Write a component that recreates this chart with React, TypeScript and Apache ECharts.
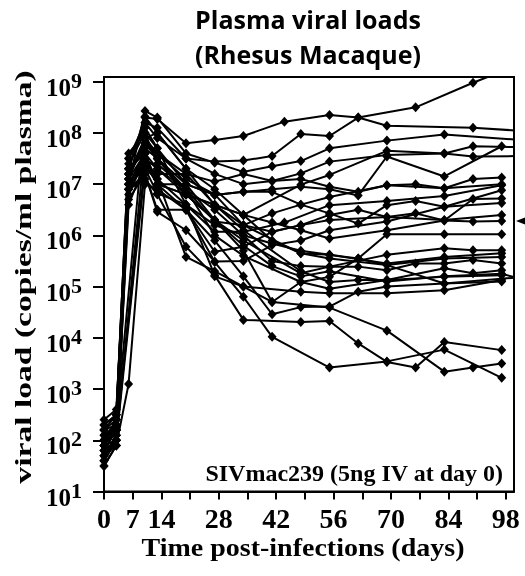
import React, { useEffect, useRef } from "react";
import * as echarts from "echarts";

// sampling days (post-infection); day 104 lies past the axis end and is clipped
const days = [0, 3, 6, 10, 13, 20, 27, 34, 41, 44, 48, 55, 62, 69, 76, 83, 90, 97, 104];
const n = null;
// log10 plasma viral load (copies/ml) per animal, aligned with `days`
const animals: (number | null)[][] = [
  [1.9, 2.2, 7.3, 8.2, 7.9, 7.5, 7.44, 7.46, 7.55, n, 7.98, 7.94, 8.3, n, 8.5, n, 8.98, 9.2, n],
  [2.0, 2.3, n, 8.3, 8.27, 7.8, 7.86, 7.94, n, 8.22, n, 8.35, 8.3, 8.14, n, n, 8.1, n, 8.03],
  [1.7, 2.1, 7.0, 8.43, 8.3, 7.6, 7.42, 7.24, 7.35, n, 7.45, 7.7, n, 7.85, n, 7.97, n, n, 7.85],
  [2.2, 2.4, 7.4, 8.0, 7.7, 7.0, 6.79, 6.85, 6.9, n, 6.95, 6.9, 6.78, 7.54, n, 7.15, n, 7.74, n],
  [1.8, 2.0, n, 7.8, 7.6, 7.2, 7.05, 7.2, 7.06, n, 7.21, 7.44, n, 7.57, n, 7.6, 7.74, n, 7.72],
  [2.1, 2.2, 7.1, 7.9, 8.0, 7.3, 6.59, 6.4, n, n, 6.99, 7.18, n, 7.65, n, 7.6, 7.54, n, 7.55],
  [1.6, 2.0, 6.8, 7.5, 7.3, 6.9, 6.27, 6.2, 6.43, n, 6.6, 6.75, n, 6.98, n, 6.92, 7.1, 7.13, n],
  [2.3, 2.5, 7.5, 8.1, 7.7, 6.6, 6.07, 6.07, n, 6.25, n, 6.59, n, 6.67, n, 6.77, n, 6.98, n],
  [1.5, 1.9, 7.2, 7.7, 7.5, 7.0, 6.79, 6.85, 6.85, n, 6.6, 6.43, 6.23, 6.59, 6.67, 6.56, n, 6.88, n],
  [2.0, 2.1, n, 7.4, 7.0, 6.5, 5.68, 5.78, 6.07, n, 6.2, 6.3, n, 6.36, 6.43, 6.29, 6.71, 6.72, n],
  [1.9, 2.4, 6.9, 7.2, 6.46, 6.1, 5.49, 5.5, 5.81, n, 5.9, 6.1, n, 6.27, n, 6.56, n, 6.63, n],
  [2.4, 2.6, 7.0, 7.6, 7.3, 6.8, 6.6, 6.4, 6.25, n, 6.1, 5.94, n, 6.1, n, 6.29, 6.27, 6.28, n],
  [1.7, 2.0, n, 7.3, 7.1, 6.6, 6.2, 6.0, 5.84, n, 5.7, 5.62, 5.55, 6.02, n, 6.02, n, 6.02, n],
  [2.1, 2.3, 7.2, 7.8, 7.5, 6.9, 6.5, 6.0, 5.5, n, 5.4, 5.39, n, 5.62, n, 5.75, 5.71, 5.71, n],
  [1.8, 2.2, 6.9, 7.1, 6.8, 5.78, 5.2, 5.0, 4.7, n, 5.09, 5.19, 5.55, 5.42, n, 5.55, n, 5.58, n],
  [2.2, 2.3, 7.3, 8.32, 8.0, 7.3, 6.9, 6.4, 5.9, n, 5.65, 5.62, n, 5.45, n, 5.58, n, 5.65, n],
  [1.6, 2.1, 7.1, 7.6, 7.0, 6.8, 6.3, 5.9, n, n, 5.26, 5.39, 5.39, 5.32, 5.45, 5.45, 5.52, 5.45, n],
  [1.9, 2.0, 6.6, 7.4, 7.2, 7.2, 6.6, 6.1, n, n, 5.3, 5.09, 5.13, 5.13, n, 5.36, 5.26, 5.32, n],
  [2.0, 2.4, 7.6, 8.0, 7.4, 6.9, 6.0, 5.6, n, n, 5.09, 4.96, n, 5.13, n, 5.19, n, 5.22, n],
  [1.7, 1.9, 7.0, 7.5, 7.1, 5.58, 5.3, 5.0, n, n, 4.9, 4.87, n, 4.87, n, 4.93, n, 5.13, n],
  [2.3, 2.5, 7.2, 7.9, 7.6, 7.1, 6.8, 6.2, n, n, 5.65, 5.55, n, 5.42, n, 5.06, n, n, 5.2],
  [1.8, 2.2, 7.0, 7.3, 6.82, 6.6, 5.22, 4.35, n, n, 4.31, 4.33, 3.89, 3.53, 3.42, 3.92, n, 3.76, n],
  [2.0, 2.2, 7.3, 7.6, 7.0, 7.0, 6.3, 5.7, 4.7, n, n, 4.59, n, 4.14, n, 3.34, 3.42, 3.5, n],
  [1.5, 1.9, 3.1, 7.0, 6.9, 6.5, 5.48, 4.8, 4.02, n, n, 3.42, n, 3.54, n, 3.77, n, 3.22, n],
  [1.9, 2.2, 6.9, 7.5, 7.0, 6.8, 6.3, 5.8, 5.4, n, 5.2, 5.3, n, 5.1, n, 5.2, n, 5.25, 5.1],
  [2.0, 2.3, 7.1, 7.9, 7.5, 6.8, 6.59, 6.2, 6.07, n, 6.2, 6.4, 6.5, 6.36, n, 6.3, n, 6.4, n],
  [2.2, 2.5, 7.5, 8.2, 8.1, 7.5, 7.2, 7.0, 7.06, n, 7.1, 6.95, 6.85, 6.98, 7.0, 6.92, n, 7.0, n],
  [1.6, 2.0, 6.7, 7.2, 6.5, 6.5, 5.9, 5.2, 4.46, n, 4.6, 4.61, 4.9, 5.0, n, 5.06, n, 5.1, n],
];

const xTickValues = [0, 7, 14, 21, 28, 35, 42, 49, 56, 63, 70, 77, 84, 91, 98];
const xLabelValues = [0, 7, 14, 28, 42, 56, 70, 84, 98];
const yTickValues = [1, 2, 3, 4, 5, 6, 7, 8, 9];

const SERIF = '"Liberation Serif", "Times New Roman", serif';
const SANS = '"Open Sans", "Noto Sans", sans-serif';

export default function App() {
  const ref = useRef<HTMLDivElement>(null);

  useEffect(() => {
    if (!ref.current) return;
    const chart = echarts.init(ref.current, null, { renderer: "svg" });

    const series = animals.map((vals, k) => ({
      type: "line",
      name: "animal " + (k + 1),
      data: days
        .map((d, i) => (vals[i] == null ? null : [d, vals[i]]))
        .filter((p) => p !== null),
      symbol: "diamond",
      symbolSize: [9, 10],
      showSymbol: true,
      lineStyle: { color: "#000", width: 2 },
      itemStyle: { color: "#000" },
      clip: true,
      silent: true,
      z: 3,
    }));

    const textStyle = (
      text: string,
      font: string,
      align: string,
      vAlign: string
    ) => ({
      text,
      font,
      fill: "#000",
      align,
      textAlign: align,
      verticalAlign: vAlign,
      textVerticalAlign: vAlign,
    });

    chart.setOption({
      animation: false,
      grid: {
        left: 104,
        right: 11,
        top: 77,
        bottom: 84.5,
        show: true,
        borderColor: "#000",
        borderWidth: 2,
        backgroundColor: "transparent",
      },
      xAxis: {
        type: "value",
        min: 0,
        max: 100,
        axisLine: { show: true, lineStyle: { color: "#000", width: 2 } },
        axisTick: {
          show: true,
          customValues: xTickValues,
          length: 8,
          lineStyle: { color: "#000", width: 2 },
        },
        axisLabel: {
          customValues: xLabelValues,
          fontSize: 28,
          fontWeight: "bold",
          fontFamily: SERIF,
          color: "#000",
          margin: 13,
        },
        splitLine: { show: false },
      },
      yAxis: {
        type: "value",
        min: 1,
        max: 9.092,
        axisLine: { show: true, lineStyle: { color: "#000", width: 2 } },
        axisTick: {
          show: true,
          customValues: yTickValues,
          length: 11,
          lineStyle: { color: "#000", width: 2 },
        },
        axisLabel: {
          customValues: yTickValues,
          margin: 22,
          formatter: (v: number) => "{b|10}{s|" + Math.round(v) + "}",
          rich: {
            b: {
              fontSize: 25,
              fontWeight: "bold",
              fontFamily: SERIF,
              color: "#000",
              lineHeight: 25,
              padding: [11, 0, 0, 0],
            },
            s: {
              fontSize: 22,
              fontWeight: "bold",
              fontFamily: SERIF,
              color: "#000",
              lineHeight: 24,
              verticalAlign: "top",
            },
          },
        },
        splitLine: { show: false },
      },
      graphic: [
        {
          type: "text",
          x: 308,
          y: 19,
          style: textStyle("Plasma viral loads", "bold 25px " + SANS, "center", "middle"),
        },
        {
          type: "text",
          x: 308,
          y: 54,
          style: textStyle("(Rhesus Macaque)", "bold 25px " + SANS, "center", "middle"),
        },
        {
          type: "text",
          x: 303,
          y: 548,
          scaleX: 1.12,
          style: textStyle("Time post-infections (days)", "bold 25px " + SERIF, "center", "middle"),
        },
        {
          type: "text",
          x: 23,
          y: 277,
          rotation: Math.PI / 2,
          scaleX: 1.4,
          style: textStyle("viral load (copies/ml plasma)", "bold 24px " + SERIF, "center", "middle"),
        },
        {
          type: "text",
          x: 503,
          y: 473,
          z: 10,
          style: textStyle("SIVmac239 (5ng IV at day 0)", "bold 24px " + SERIF, "right", "middle"),
        },
        {
          type: "polygon",
          shape: { points: [[516, 221], [525, 217.5], [525, 224.5]] },
          style: { fill: "#000" },
        },
      ],
      series,
    });

    return () => chart.dispose();
  }, []);

  return (
    <div
      ref={ref}
      style={{ position: "fixed", left: 0, top: 0, width: 525, height: 576 }}
    />
  );
}
